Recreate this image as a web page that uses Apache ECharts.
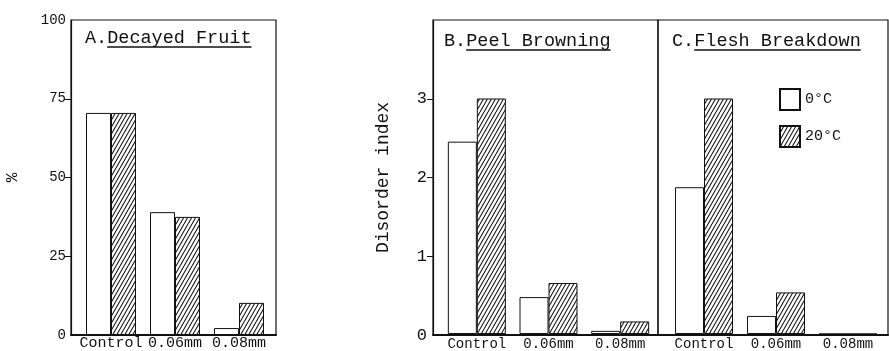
<!DOCTYPE html>
<html>
<head>
<meta charset="utf-8">
<script src="https://cdn.jsdelivr.net/npm/echarts@6/dist/echarts.min.js"></script>
<style>
  html, body { margin: 0; padding: 0; background: #fff; }
  #chart { width: 889px; height: 351px; }
</style>
</head>
<body>
<div id="chart"></div>
<script>
// categories and values
const categories = ['Control', '0.06mm', '0.08mm'];
const seriesNames = ['0°C', '20°C'];
const decay0 = [70.5, 39, 2.2];
const decay20 = [70.5, 37.5, 10.2];
const peel0 = [2.45, 0.47, 0.04];
const peel20 = [3.0, 0.65, 0.16];
const flesh0 = [1.87, 0.23, 0];
const flesh20 = [3.0, 0.53, 0];
const pctTicks = [0, 25, 50, 75, 100];
const indexTicks = [0, 1, 2, 3];

const INK = '#111';
const FONT = 'Liberation Mono';

// diagonal hatch used for the 20°C bars
function makeHatch() {
    const c = document.createElement('canvas');
    c.width = 4;
    c.height = 7;
    const ctx = c.getContext('2d');
    ctx.fillStyle = '#fff';
    ctx.fillRect(0, 0, 4, 7);
    ctx.strokeStyle = INK;
    ctx.lineWidth = 1.1;
    ctx.beginPath();
    for (let k = -1; k <= 1; k++) {
        ctx.moveTo(k * 4, 7);
        ctx.lineTo(k * 4 + 4, 0);
    }
    ctx.stroke();
    return c;
}
const hatch = { image: makeHatch(), repeat: 'repeat' };

// frame grids (axes + box) and bar grids (category placement)
const frames = [
    { left: 71, width: 205 },
    { left: 433, width: 225 },
    { left: 658, width: 230 }
];
const barGrids = [
    { left: 79, width: 192 },
    { left: 441, width: 215 },
    { left: 668, width: 216 }
];
const TOP = 20, HEIGHT = 315;

const grids = frames.map(f => ({
    left: f.left, width: f.width, top: TOP, height: HEIGHT,
    show: true, borderColor: INK, borderWidth: 1.2, backgroundColor: 'transparent'
})).concat(barGrids.map(g => ({
    left: g.left, width: g.width, top: TOP, height: HEIGHT, show: false
})));

const xAxes = [0, 1, 2].map(i => ({
    gridIndex: i, type: 'category', data: categories,
    axisLine: { show: true, lineStyle: { color: INK, width: 2 } },
    axisTick: { show: false }, axisLabel: { show: false }
})).concat([0, 1, 2].map(i => ({
    gridIndex: i + 3, type: 'category', data: categories,
    axisLine: { show: false }, axisTick: { show: false },
    axisLabel: {
        interval: 0, hideOverlap: false,
        margin: i === 0 ? 1 : 3,
        fontSize: i === 0 ? 15 : 14,
        color: INK, fontFamily: FONT
    }
})));

const yAxes = [
    {
        gridIndex: 0, type: 'value', min: 0, max: 100, interval: 25,
        name: '%', nameLocation: 'middle', nameGap: 50, nameRotate: 90,
        nameTextStyle: { fontSize: 16, color: INK, fontFamily: FONT },
        axisLine: { show: true, lineStyle: { color: INK, width: 1.2 } },
        axisTick: { show: true, length: 6, customValues: [25, 50, 75], lineStyle: { color: INK } },
        axisLabel: { customValues: pctTicks, fontSize: 14, color: INK, fontFamily: FONT, margin: 5 },
        splitLine: { show: false }
    },
    {
        gridIndex: 1, type: 'value', min: 0, max: 4, interval: 1,
        name: 'Disorder index', nameLocation: 'middle', nameGap: 41, nameRotate: 90,
        nameTextStyle: { fontSize: 18, color: INK, fontFamily: FONT },
        axisLine: { show: true, lineStyle: { color: INK, width: 1.2 } },
        axisTick: { show: true, length: 6, customValues: [1, 2, 3], lineStyle: { color: INK } },
        axisLabel: { customValues: indexTicks, fontSize: 17, color: INK, fontFamily: FONT, margin: 6 },
        splitLine: { show: false }
    },
    {
        gridIndex: 2, type: 'value', min: 0, max: 4, interval: 1,
        axisLine: { show: false }, axisTick: { show: false },
        axisLabel: { show: false }, splitLine: { show: false }
    }
].concat([
    { gridIndex: 3, type: 'value', min: 0, max: 100, show: false },
    { gridIndex: 4, type: 'value', min: 0, max: 4, show: false },
    { gridIndex: 5, type: 'value', min: 0, max: 4, show: false }
]);

function barPair(idx, d0, d20, w) {
    const common = {
        type: 'bar', xAxisIndex: idx + 3, yAxisIndex: idx + 3,
        barWidth: w, barGap: '0%', silent: true
    };
    return [
        Object.assign({}, common, {
            name: seriesNames[0], data: d0,
            itemStyle: { color: '#fff', borderColor: INK, borderWidth: 1 }
        }),
        Object.assign({}, common, {
            name: seriesNames[1], data: d20,
            itemStyle: { color: hatch, borderColor: INK, borderWidth: 1 }
        })
    ];
}

// panel titles with the underline under the words (monospace, so width = chars * 0.6em)
const TITLE_SIZE = 18.5;
const cw = TITLE_SIZE * 0.6;
const titles = [
    { text: 'A.Decayed Fruit', x: 85, y: 29, lineY: 47 },
    { text: 'B.Peel Browning', x: 444, y: 32, lineY: 50 },
    { text: 'C.Flesh Breakdown', x: 672, y: 32, lineY: 50 }
];
const graphics = [];
titles.forEach(t => {
    graphics.push({
        type: 'text', left: t.x, top: t.y,
        style: { text: t.text, font: TITLE_SIZE + 'px "' + FONT + '"', fill: INK }
    });
    graphics.push({
        type: 'line',
        shape: { x1: t.x + 2 * cw, y1: t.lineY, x2: t.x + t.text.length * cw, y2: t.lineY },
        style: { stroke: INK, lineWidth: 1.3 }
    });
});

const chart = echarts.init(document.getElementById('chart'));
chart.setOption({
    animation: false,
    backgroundColor: '#fff',
    textStyle: { fontFamily: FONT, color: INK },
    grid: grids,
    xAxis: xAxes,
    yAxis: yAxes,
    legend: {
        data: seriesNames,
        orient: 'vertical',
        left: 779, top: 88,
        padding: 0,
        itemWidth: 20, itemHeight: 21, itemGap: 14,
        icon: 'rect',
        selectedMode: false,
        textStyle: { fontSize: 15, color: INK, fontFamily: FONT }
    },
    graphic: graphics,
    series: [].concat(
        barPair(0, decay0, decay20, 25),
        barPair(1, peel0, peel20, 29),
        barPair(2, flesh0, flesh20, 29)
    )
});
</script>
</body>
</html>
